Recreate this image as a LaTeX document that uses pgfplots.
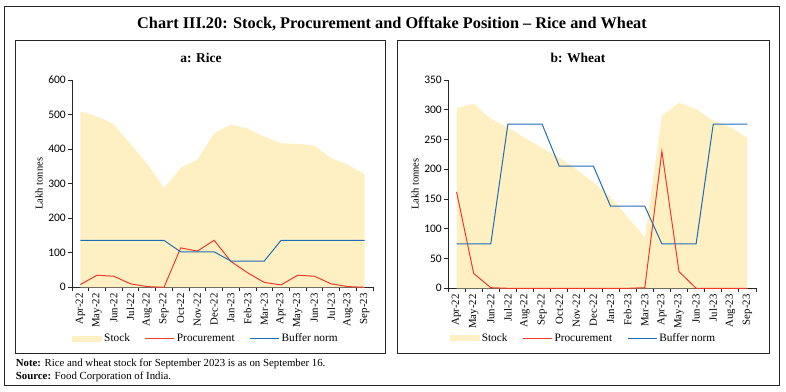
\documentclass[border=0pt]{standalone}
\usepackage{pgfplots}
\pgfplotsset{compat=1.18}
\usepackage{fontspec}
\setmainfont{Liberation Serif}
\newfontfamily\tickfont{Carlito}
\definecolor{stockc}{HTML}{FFF0C4}
\definecolor{procc}{HTML}{EE3A2C}
\definecolor{buffc}{HTML}{1F6DB6}
\pgfplotsset{
  panel/.style={
    scale only axis,
    anchor=south west,
    xmin=-0.5, xmax=17.5,
    ymin=0,
    axis x line*=bottom, axis y line*=left,
    axis line style={line width=0.8pt, black!85},
    xtick={0,...,17},
    xticklabels={Apr-22,May-22,Jun-22,Jul-22,Aug-22,Sep-22,Oct-22,Nov-22,Dec-22,Jan-23,Feb-23,Mar-23,Apr-23,May-23,Jun-23,Jul-23,Aug-23,Sep-23},
    major x tick style={draw=none},
    minor xtick={-0.5,0.5,...,17.5},
    minor x tick style={line width=0.8pt, black!85},
    minor tick length=4pt,
    major tick length=4pt,
    tick align=outside,
    ytick style={line width=0.8pt, black!85},
    xticklabel style={rotate=90, anchor=east, font=\fontsize{10.8}{11}\selectfont, inner sep=2pt},
    yticklabel style={font=\tickfont\fontsize{11.5}{12}\selectfont, inner sep=2pt},
    /pgf/number format/assume math mode=true,
    ylabel={Lakh tonnes},
    ylabel style={font=\fontsize{10.5}{11}\selectfont},
    legend columns=3,
    legend style={draw=none, fill=none, font=\fontsize{11.3}{12}\selectfont, anchor=center,
      /tikz/every even column/.append style={column sep=13pt}},
    clip=false,
  },
  stockleg/.style={legend image code/.code={\fill[stockc] (0pt,-3pt) rectangle (30pt,3pt);}},
  lineleg/.style={legend image code/.code={\draw[##1, line width=1pt] (0pt,0pt) -- (29pt,0pt);}},
}
\begin{document}
\begin{tikzpicture}[x=1pt,y=1pt]
\useasboundingbox (0,0) rectangle (786,391);
\draw[line width=0.8pt, black!85] (4.3,6) rectangle (779.3,384.3);
\draw[line width=0.8pt, black!85] (15.7,37.7) rectangle (385.7,350.3);
\draw[line width=0.8pt, black!85] (397.3,37.7) rectangle (769,350.3);
\node[font=\bfseries\fontsize{16.3}{17}\selectfont] at (392,366.5) {Chart III.20: Stock, Procurement and Offtake Position -- Rice and Wheat};
\node[font=\bfseries\fontsize{13.5}{14}\selectfont] at (201,333) {a: Rice};
\node[font=\bfseries\fontsize{13.5}{14}\selectfont] at (578,333) {b: Wheat};
\node[anchor=west, font=\fontsize{10.8}{11}\selectfont, inner sep=0pt] at (15.7,27) {\textbf{Note:} Rice and wheat stock for September 2023 is as on September 16.};
\node[anchor=west, font=\fontsize{10.8}{11}\selectfont, inner sep=0pt] at (15.7,14.3) {\textbf{Source:} Food Corporation of India.};

\begin{axis}[panel, at={(72pt,103.7pt)}, width=301pt, height=207.3pt,
  ymax=600, ytick={0,100,...,600},
  legend style={at={(0.445,-0.248)}}]
\addplot[fill=stockc, draw=none, stockleg] coordinates {
(0,509) (1,495) (2,472) (3,415) (4,358) (5,287) (6,346) (7,370) (8,446) (9,471)
(10,460) (11,436) (12,417) (13,415) (14,410) (15,374) (16,355) (17,327)} \closedcycle;
\addlegendentry{Stock}
\addplot[procc, line width=1pt, lineleg] coordinates {
(0,8) (1,35) (2,32) (3,10) (4,2) (5,0) (6,114) (7,105) (8,136) (9,75)
(10,42) (11,14) (12,7) (13,35) (14,32) (15,10) (16,2) (17,0)};
\addlegendentry{Procurement}
\addplot[buffc, line width=1pt, lineleg] coordinates {
(0,135.8) (1,135.8) (2,135.8) (3,135.8) (4,135.8) (5,135.8) (6,102.5) (7,102.5) (8,102.5) (9,76.1)
(10,76.1) (11,76.1) (12,135.8) (13,135.8) (14,135.8) (15,135.8) (16,135.8) (17,135.8)};
\addlegendentry{Buffer norm}
\end{axis}

\begin{axis}[panel, at={(448pt,102.7pt)}, width=308pt, height=208.3pt,
  ymax=350, ytick={0,50,...,350},
  legend style={at={(0.44,-0.24)}}]
\addplot[fill=stockc, draw=none, stockleg] coordinates {
(0,303) (1,310) (2,285) (3,270) (4,253) (5,236) (6,220) (7,200) (8,178) (9,153)
(10,120) (11,86) (12,290) (13,312) (14,301) (15,282) (16,271) (17,253)} \closedcycle;
\addlegendentry{Stock}
\addplot[procc, line width=1pt, lineleg] coordinates {
(0,162) (1,25) (2,1) (3,0) (4,0) (5,0) (6,0) (7,0) (8,0) (9,0)
(10,0) (11,1) (12,230) (13,28) (14,0) (15,0) (16,0) (17,0)};
\addlegendentry{Procurement}
\addplot[buffc, line width=1pt, lineleg] coordinates {
(0,74.6) (1,74.6) (2,74.6) (3,275.8) (4,275.8) (5,275.8) (6,205.2) (7,205.2) (8,205.2) (9,138)
(10,138) (11,138) (12,74.6) (13,74.6) (14,74.6) (15,275.8) (16,275.8) (17,275.8)};
\addlegendentry{Buffer norm}
\end{axis}
\end{tikzpicture}
\end{document}
